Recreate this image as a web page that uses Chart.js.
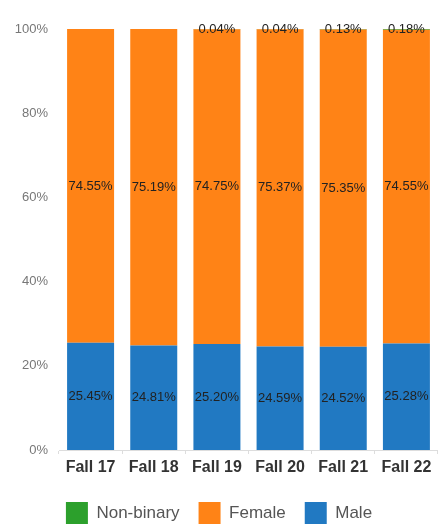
<!DOCTYPE html>
<html>
<head>
<meta charset="utf-8">
<script src="https://cdn.jsdelivr.net/npm/chart.js@4.4.0/dist/chart.umd.min.js"></script>
<style>
html,body{margin:0;padding:0;background:#fff;}
#wrap{width:438px;height:525px;position:relative;}
</style>
</head>
<body>
<div id="wrap"><canvas id="chart"></canvas></div>
<script>
const terms=["Fall 17","Fall 18","Fall 19","Fall 20","Fall 21","Fall 22"];
const male=[25.45,24.81,25.20,24.59,24.52,25.28];
const female=[74.55,75.19,74.75,75.37,75.35,74.55];
const nonBinary=[0,0,0.04,0.04,0.13,0.18];
const yTicks=[0,20,40,60,80,100];

const FONT="'Liberation Sans', Arial, sans-serif";

// draws the % labels in the middle of each segment
const barLabels={
id:"barLabels",
afterDatasetsDraw(chart){
let ctx=chart.ctx;
ctx.save();
ctx.font="13px "+FONT;
ctx.fillStyle="#222";
ctx.textAlign="center";
ctx.textBaseline="middle";
chart.data.datasets.forEach((ds,i)=>{
chart.getDatasetMeta(i).data.forEach((bar,j)=>{
let v=ds.data[j];
if(!v)return;
ctx.fillText(v.toFixed(2)+"%",bar.x,(bar.y+bar.base)/2);
});
});
ctx.restore();
}
};

new Chart(document.getElementById("chart"),{
type:"bar",
data:{labels:terms,datasets:[
{label:"Male",data:male,backgroundColor:"#2179c2"},
{label:"Female",data:female,backgroundColor:"#ff8316"},
{label:"Non-binary",data:nonBinary,backgroundColor:"#2ca02c"}
]},
options:{
responsive:true,maintainAspectRatio:false,animation:false,
layout:{padding:{top:29,right:0,left:0,bottom:-9}},
datasets:{bar:{barPercentage:0.744,categoryPercentage:1}},
scales:{
x:{stacked:true,
grid:{display:true,drawOnChartArea:false,drawTicks:true,tickLength:4,color:"#ddd"},
border:{color:"#ddd"},
afterFit:s=>{s.height=33;},
ticks:{color:"#333",font:{family:FONT,size:16,weight:"bold"},padding:4}},
y:{stacked:true,min:0,max:100,grid:{display:false,drawTicks:false},border:{display:false},
afterBuildTicks:a=>{a.ticks=yTicks.map(v=>({value:v}));},
afterFit:s=>{s.width=59;},
ticks:{color:"#777",font:{family:FONT,size:13},padding:11,callback:v=>v+"%"}}
},
plugins:{
tooltip:{enabled:false},
legend:{position:"bottom",reverse:true,
labels:{boxWidth:22,boxHeight:22,padding:19,color:"#555",
font:{family:FONT,size:17}}}
}
},
plugins:[barLabels]
});
</script>
</body>
</html>
